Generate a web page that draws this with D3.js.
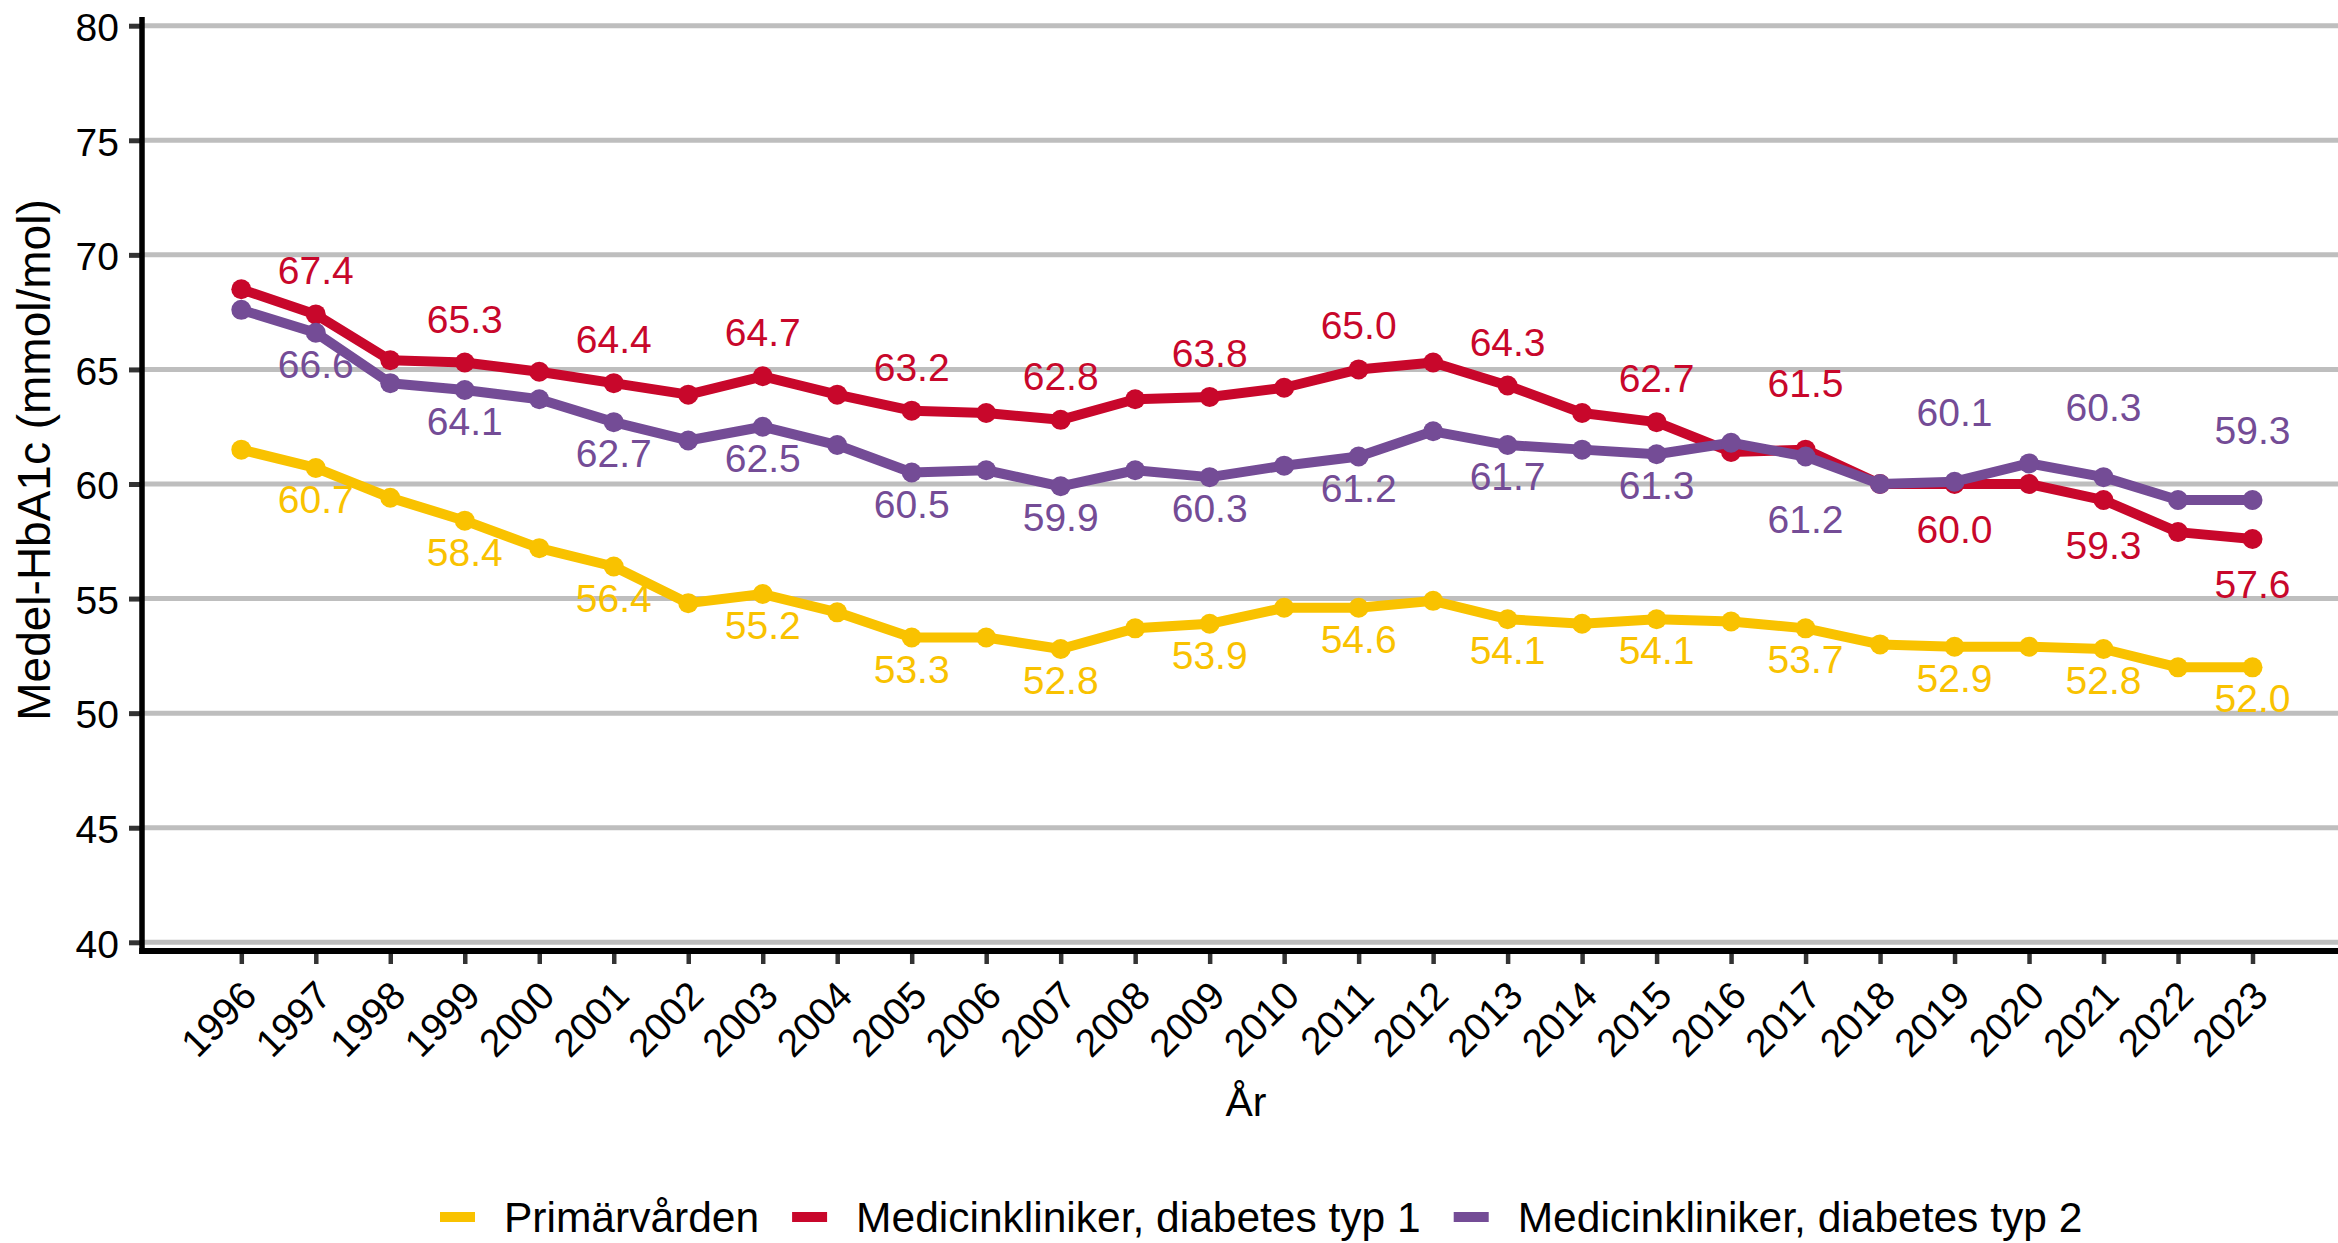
<!DOCTYPE html>
<html>
<head>
<meta charset="utf-8">
<script src="https://cdn.jsdelivr.net/npm/d3@7/dist/d3.min.js"></script>
<style>
  html, body { margin: 0; padding: 0; background: #ffffff; }
  svg { display: block; }
  text { font-family: "Liberation Sans", Arial, Helvetica, sans-serif; }
</style>
</head>
<body>
<svg id="chart" width="2338" height="1243"></svg>
<script>
// ---- data ----
const years = [1996,1997,1998,1999,2000,2001,2002,2003,2004,2005,2006,2007,2008,2009,
               2010,2011,2012,2013,2014,2015,2016,2017,2018,2019,2020,2021,2022,2023];
const primarvarden = [61.5,60.7,59.4,58.4,57.2,56.4,54.8,55.2,54.4,53.3,53.3,52.8,53.7,53.9,
                      54.6,54.6,54.9,54.1,53.9,54.1,54.0,53.7,53.0,52.9,52.9,52.8,52.0,52.0];
const medTyp1 = [68.5,67.4,65.4,65.3,64.9,64.4,63.9,64.7,63.9,63.2,63.1,62.8,63.7,63.8,
                 64.2,65.0,65.3,64.3,63.1,62.7,61.4,61.5,60.0,60.0,60.0,59.3,57.9,57.6];
const medTyp2 = [67.6,66.6,64.4,64.1,63.7,62.7,61.9,62.5,61.7,60.5,60.6,59.9,60.6,60.3,
                 60.8,61.2,62.3,61.7,61.5,61.3,61.8,61.2,60.0,60.1,60.9,60.3,59.3,59.3];
const seriesNames = ["Primärvården", "Medicinkliniker, diabetes typ 1", "Medicinkliniker, diabetes typ 2"];
const seriesColors = ["#F9C200", "#C8072B", "#744C96"];
const yTicks = [40,45,50,55,60,65,70,75,80];
const yTitle = "Medel-HbA1c (mmol/mol)";
const xTitle = "År";

// ---- layout ----
const W = 2338, H = 1243;
const panelLeft = 142, panelRight = 2338, panelTop = 17, axisY = 951;
const FONT = 38;

const svg = d3.select("#chart");

const x = d3.scalePoint().domain(years).range([241.3, 2252.5]);
const y = d3.scaleLinear().domain([40, 80]).range([942.3, 25.7]);

// gridlines
svg.append("g").selectAll("line").data(yTicks).join("line")
  .attr("x1", panelLeft).attr("x2", panelRight)
  .attr("y1", d => y(d)).attr("y2", d => y(d))
  .attr("stroke", "#BEBEBE").attr("stroke-width", 5);

// y axis ticks + labels
const yAxis = d3.axisLeft(y).tickValues(yTicks).tickSize(13).tickPadding(10).tickFormat(d3.format("d"));
const gy = svg.append("g").attr("transform", `translate(${panelLeft},0)`).call(yAxis);
gy.select(".domain").remove();
gy.selectAll(".tick line").attr("stroke", "#333").attr("stroke-width", 5);
gy.selectAll(".tick text").attr("font-size", 39).attr("fill", "#000")
  .attr("font-family", "Liberation Sans, Arial, sans-serif").attr("dy", "0.38em");

// x axis ticks + labels
const xAxis = d3.axisBottom(x).tickSize(13).tickPadding(0);
const gx = svg.append("g").attr("transform", `translate(0,${axisY})`).call(xAxis);
gx.select(".domain").remove();
gx.selectAll(".tick line").attr("stroke", "#333").attr("stroke-width", 4.5);
gx.selectAll(".tick text")
  .attr("font-size", 39).attr("fill", "#000")
  .attr("font-family", "Liberation Sans, Arial, sans-serif")
  .attr("text-anchor", "end")
  .attr("y", 0).attr("dy", 0)
  .attr("transform", "translate(17,47) rotate(-45)");

// axis lines
svg.append("line").attr("x1", panelLeft).attr("x2", panelLeft)
  .attr("y1", panelTop).attr("y2", axisY + 3)
  .attr("stroke", "#000").attr("stroke-width", 5.5);
svg.append("line").attr("x1", panelLeft - 2.75).attr("x2", panelRight)
  .attr("y1", axisY).attr("y2", axisY)
  .attr("stroke", "#000").attr("stroke-width", 6);

// axis titles
svg.append("text").attr("transform", `translate(50,460) rotate(-90)`)
  .attr("text-anchor", "middle").attr("font-size", 46).attr("fill", "#000").text(yTitle);
svg.append("text").attr("x", 1246).attr("y", 1116)
  .attr("text-anchor", "middle").attr("font-size", 41).attr("fill", "#000").text(xTitle);

// series
const allSeries = [primarvarden, medTyp1, medTyp2];
const line = d3.line().x((d, i) => x(years[i])).y(d => y(d));

allSeries.forEach((vals, s) => {
  const g = svg.append("g");
  g.append("path").datum(vals).attr("d", line)
    .attr("fill", "none").attr("stroke", seriesColors[s])
    .attr("stroke-width", 10).attr("stroke-linejoin", "round").attr("stroke-linecap", "round");
  g.selectAll("circle").data(vals).join("circle")
    .attr("cx", (d, i) => x(years[i])).attr("cy", d => y(d))
    .attr("r", 10).attr("fill", seriesColors[s]);
});

// value labels (every other year, starting 1997)
function labelOffset(s, i) {
  if (s === 0) return 31;
  const a = medTyp1[i], b = medTyp2[i];
  const gap = Math.abs(a - b);
  const redUpper = a >= b;
  if (s === 1) {
    if (redUpper) return gap < 0.5 ? -67 : -44;
    return 45;
  } else {
    if (redUpper) return gap < 0.5 ? 62 : 31;
    return -70;
  }
}
allSeries.forEach((vals, s) => {
  const idx = years.map((yr, i) => i).filter(i => i % 2 === 1);
  svg.append("g").selectAll("text").data(idx).join("text")
    .attr("x", i => x(years[i]))
    .attr("y", i => y(vals[i]) + labelOffset(s, i))
    .attr("dy", "0.36em")
    .attr("text-anchor", "middle")
    .attr("font-size", 39)
    .attr("fill", seriesColors[s])
    .text(i => vals[i].toFixed(1));
});

// legend
const legend = svg.append("g");
let lx = 440;
const ly = 1217;
seriesNames.forEach((name, s) => {
  legend.append("rect").attr("x", lx).attr("y", ly - 5).attr("width", 35).attr("height", 10)
    .attr("fill", seriesColors[s]);
  const t = legend.append("text").attr("x", lx + 64).attr("y", ly).attr("dy", "0.36em")
    .attr("font-size", 42.5).attr("fill", "#000").text(name);
  const w = t.node().getComputedTextLength();
  lx = lx + 64 + w + 33;
});
</script>
</body>
</html>
